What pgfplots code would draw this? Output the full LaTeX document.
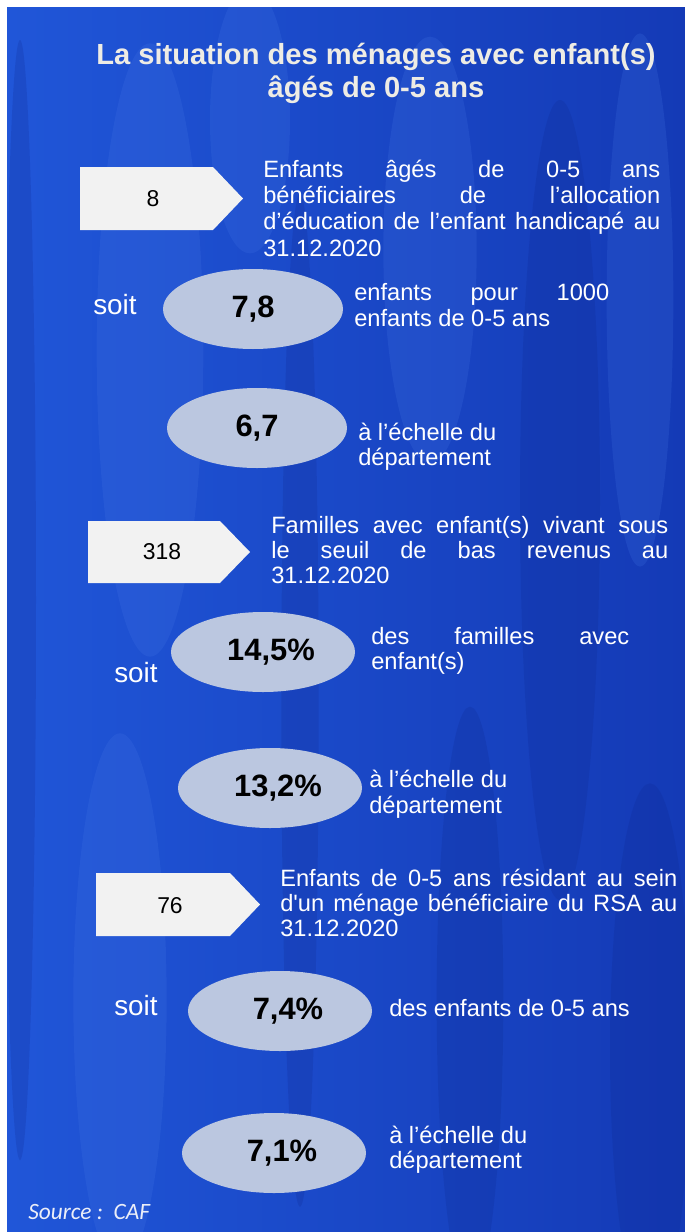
\documentclass[border=0pt]{standalone}
\usepackage{pgfplots}
\pgfplotsset{compat=1.18}
\usepackage{pgfplotstable}
\usepackage{fontspec}
\setmainfont{Liberation Sans}
\newfontfamily\plainfont{Liberation Sans}[Ligatures=TeXOff]
\newfontfamily\calib{Carlito}
\usetikzlibrary{shapes.geometric}
\definecolor{bgA}{RGB}{32,86,216}
\definecolor{bgB}{RGB}{20,58,182}
\definecolor{bgL}{RGB}{70,120,230}
\definecolor{bgD}{RGB}{12,38,140}
\definecolor{ell}{RGB}{187,199,224}
\definecolor{boxc}{RGB}{242,242,242}
\definecolor{titlec}{RGB}{238,236,228}
\newcommand\body{\fontsize{17.8}{20}\selectfont}

% ratios per 1000 children
\pgfplotstableread{
x y v
253 309 7.8
257 428 6.7
}\perthousand
% percentages
\pgfplotstableread{
x y v
263 652 14.5
270 788 13.2
280 1011 7.4
274 1153 7.1
}\percent
% counts
\pgfplotstableread{
x y v
153 199 8
162 552 318
170 906 76
}\counts

\begin{document}
\begin{tikzpicture}
\begin{axis}[scale only axis, width=513.75bp, height=924bp,
  xmin=0, xmax=685, ymin=0, ymax=1232, y dir=reverse,
  hide axis, clip=false,
  /pgf/number format/.cd, use comma, fixed, fixed zerofill, precision=1, assume math mode=true]
% background
\fill[white] (axis cs:0,0) rectangle (axis cs:685,1232);
\begin{scope}
\clip (axis cs:7,7) rectangle (axis cs:685,1232);
\shade[left color=bgA, right color=bgB] (axis cs:7,7) rectangle (axis cs:685,1232);
\begin{scope}[opacity=0.2]
\fill[bgD] (axis cs:20,600) ellipse [x radius=12bp, y radius=420bp];
\fill[bgL] (axis cs:150,350) ellipse [x radius=40bp, y radius=230bp];
\fill[bgD] (axis cs:300,700) ellipse [x radius=14bp, y radius=380bp];
\fill[bgL] (axis cs:430,250) ellipse [x radius=35bp, y radius=160bp];
\fill[bgD] (axis cs:560,500) ellipse [x radius=30bp, y radius=300bp];
\fill[bgL] (axis cs:640,300) ellipse [x radius=25bp, y radius=200bp];
\fill[bgD] (axis cs:470,1000) ellipse [x radius=25bp, y radius=220bp];
\fill[bgL] (axis cs:120,1000) ellipse [x radius=35bp, y radius=200bp];
\fill[bgD] (axis cs:650,1050) ellipse [x radius=30bp, y radius=200bp];
\fill[bgL] (axis cs:250,120) ellipse [x radius=30bp, y radius=100bp];
\end{scope}
\end{scope}

% title
\node[anchor=base, font=\bfseries\fontsize{21.9}{26}\selectfont, text=titlec] at (axis cs:376,64) {La situation des ménages avec enfant(s)};
\node[anchor=base, font=\bfseries\fontsize{21.9}{26}\selectfont, text=titlec] at (axis cs:376,97) {âgés de 0-5 ans};

% arrow boxes
\addplot[fill=boxc, draw=none] coordinates {(80,167) (213,167) (243,198.5) (213,230) (80,230)} -- cycle;
\addplot[fill=boxc, draw=none] coordinates {(88,521) (220,521) (250,552) (220,583) (88,583)} -- cycle;
\addplot[fill=boxc, draw=none] coordinates {(96,873) (230,873) (260,904.5) (230,936) (96,936)} -- cycle;

% counts
\addplot[draw=none, mark=none, point meta=\thisrow{v},
  nodes near coords={\pgfmathprintnumber[precision=0,fixed zerofill=false]{\pgfplotspointmeta}},
  every node near coord/.style={anchor=center, text=black, font=\fontsize{17.25}{20}\selectfont}]
  table[x=x,y=y]{\counts};

% ellipses
\addplot[draw=none, mark=none, point meta=\thisrow{v},
  nodes near coords={\pgfmathprintnumber{\pgfplotspointmeta}},
  every node near coord/.style={anchor=center, ellipse, fill=ell, inner sep=0pt,
    minimum width=135bp, minimum height=60bp, text=black,
    font=\bfseries\fontsize{23.25}{26}\selectfont}]
  table[x=x,y=y]{\perthousand};
\addplot[draw=none, mark=none, point meta=\thisrow{v},
  nodes near coords={\hspace*{12bp}\pgfmathprintnumber{\pgfplotspointmeta}\%},
  every node near coord/.style={anchor=center, ellipse, fill=ell, inner sep=0pt,
    minimum width=138bp, minimum height=60bp, text=black,
    font=\bfseries\fontsize{23.25}{26}\selectfont}]
  table[x=x,y=y]{\percent};

% texts
\begin{scope}[every node/.style={anchor=base west, text=white, inner sep=0pt, font=\body}]
\node at (axis cs:263,177) {\makebox[297.75bp][s]{Enfants âgés de 0-5 ans}};
\node at (axis cs:263,203) {\makebox[297.75bp][s]{bénéficiaires de l’allocation}};
\node at (axis cs:263,229) {\makebox[297.75bp][s]{d’éducation de l’enfant handicapé au}};
\node at (axis cs:263,256) {31.12.2020};
\node[font=\fontsize{21}{24}\selectfont] at (axis cs:93,314) {soit};
\node at (axis cs:354,300) {\makebox[191.25bp][s]{enfants pour 1000}};
\node at (axis cs:354,326) {enfants de 0-5 ans};
\node at (axis cs:358,440) {à l’échelle du};
\node at (axis cs:358,465) {département};

\node at (axis cs:271,533) {\makebox[297.75bp][s]{Familles avec enfant(s) vivant sous}};
\node at (axis cs:271,558) {\makebox[297.75bp][s]{le seuil de bas revenus au}};
\node at (axis cs:271,583) {31.12.2020};
\node[font=\fontsize{21}{24}\selectfont] at (axis cs:114,682) {soit};
\node at (axis cs:371,644) {\makebox[193.5bp][s]{des familles avec}};
\node at (axis cs:371,669) {enfant(s)};
\node at (axis cs:369,787) {à l’échelle du};
\node at (axis cs:369,813) {département};

\node at (axis cs:280,886) {\makebox[297.75bp][s]{Enfants de 0-5 ans résidant au sein}};
\node at (axis cs:280,911) {\makebox[297.75bp][s]{d{\plainfont'}un ménage bénéficiaire du RSA au}};
\node at (axis cs:280,936) {31.12.2020};
\node[font=\fontsize{21}{24}\selectfont] at (axis cs:114,1015) {soit};
\node at (axis cs:389,1016) {des enfants de 0-5 ans};
\node at (axis cs:389,1143) {à l’échelle du};
\node at (axis cs:389,1168) {département};
\node[font=\calib\itshape\fontsize{17.6}{20}\selectfont, text={rgb,255:red,235;green,238;blue,248}] at (axis cs:28,1219) {Source :\ \ CAF};
\end{scope}
\end{axis}
\end{tikzpicture}
\end{document}
